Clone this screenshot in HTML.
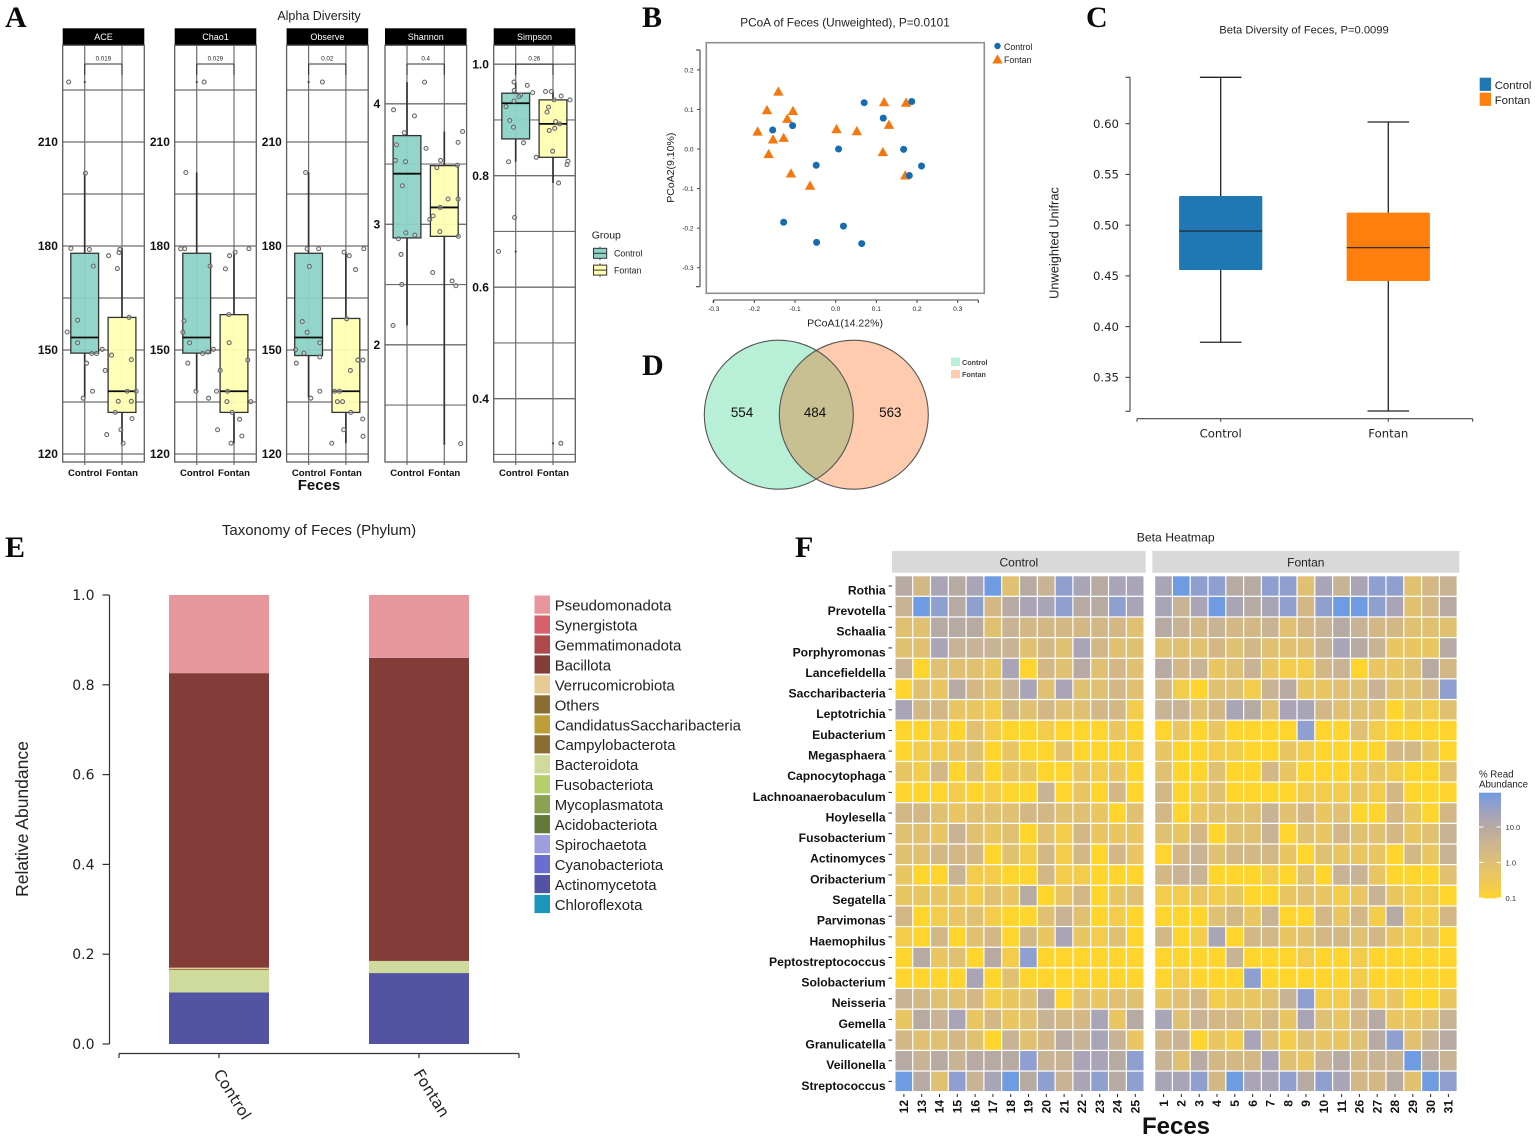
<!DOCTYPE html>
<html lang="en">
<head>
<meta charset="utf-8">
<title>Fecal microbiome diversity figure</title>
<style>
html,body{margin:0;padding:0;background:#fff;}
body{width:1535px;height:1140px;overflow:hidden;}
svg{display:block;font-family:"Liberation Sans",sans-serif;filter:blur(.3px);}
.letter{font-family:"Liberation Serif",serif;font-weight:bold;font-size:30px;fill:#0a0a0a;}
.dj{font-family:"DejaVu Sans",sans-serif;}
</style>
</head>
<body>
<svg id="fig" xmlns="http://www.w3.org/2000/svg" width="1535" height="1140" viewBox="0 0 1535 1140">
  <rect width="1535" height="1140" fill="#fff"/>
  <text class="letter" x="5" y="27">A</text>
  <text class="letter" x="642" y="27">B</text>
  <text class="letter" x="1086" y="27">C</text>
  <text class="letter" x="642" y="375">D</text>
  <text class="letter" x="5" y="557">E</text>
  <text class="letter" x="795" y="557">F</text>

  <text x="319" y="20" font-size="12.5" text-anchor="middle" fill="#222">Alpha Diversity</text>
  <text x="319" y="490" font-size="15" font-weight="bold" text-anchor="middle" fill="#111">Feces</text>
  <text x="591.7" y="238.5" font-size="10.5" fill="#222">Group</text>

  <text x="845" y="26.7" font-size="11.8" text-anchor="middle" fill="#222">PCoA of Feces (Unweighted), P=0.0101</text>
  <text x="845" y="326.7" font-size="10.5" text-anchor="middle" fill="#222">PCoA1(14.22%)</text>
  <text transform="translate(674,167.7) rotate(-90)" font-size="10.5" text-anchor="middle" fill="#222">PCoA2(9.10%)</text>

  <text x="1304" y="33.3" font-size="11.2" text-anchor="middle" fill="#222">Beta Diversity of Feces, P=0.0099</text>
  <text transform="translate(1058.5,243) rotate(-90)" font-size="12.8" text-anchor="middle" fill="#222">Unweighted Unifrac</text>

  <text x="319" y="535" font-size="15" text-anchor="middle" fill="#222">Taxonomy of Feces (Phylum)</text>
  <text transform="translate(28,819) rotate(-90)" font-size="17.5" text-anchor="middle" fill="#222">Relative Abundance</text>

  <text x="1175.7" y="541.5" font-size="12.2" text-anchor="middle" fill="#222">Beta Heatmap</text>
  <text x="1176" y="1134" font-size="24" font-weight="bold" text-anchor="middle" fill="#111">Feces</text>
  <text x="1479" y="777.3" font-size="9.7" fill="#222">% Read</text>
  <text x="1479" y="787.5" font-size="9.7" fill="#222">Abundance</text>
</svg>

<script>
// ---------- Panel A: alpha diversity ----------
const facetNames = ['ACE', 'Chao1', 'Observe', 'Shannon', 'Simpson'];
const facetPValues = ['0.019', '0.029', '0.02', '0.4', '0.26'];
const boxGroups = ['Control', 'Fontan'];

const countMajorTicks = [120, 150, 180, 210];
const countMinorTicks = [135, 165, 195, 225];
const shannonMajorTicks = [2, 3, 4];
const shannonMinorTicks = [1.5, 2.5, 3.5];
const simpsonMajorTicks = [0.4, 0.6, 0.8, 1.0];
const simpsonMinorTicks = [0.3, 0.5, 0.7, 0.9];

// stats: [q1, median, q3, whiskerLow, whiskerHigh]
const aceStats = [[149.1, 153.6, 177.9, 136.2, 201], [132, 138.1, 159.4, 123, 179.4]];
const chao1Stats = [[149.1, 153.6, 177.9, 138.1, 201.2], [132, 138.1, 160.2, 123.1, 178.2]];
const observeStats = [[148.4, 153.6, 177.9, 136.1, 201.2], [132, 138.1, 159.1, 123.1, 178.2]];
const shannonStats = [[2.887, 3.42, 3.736, 2.16, 4.18], [2.9, 3.14, 3.487, 1.18, 3.77]];
const simpsonStats = [[0.866, 0.93, 0.948, 0.825, 0.968], [0.833, 0.893, 0.936, 0.787, 0.951]];

const acePointsX = [.57,1.02,.63,1.125,1.23,.81,.53,.81,1.19,1.32,1.47,1.05,1.21,.96,1.64,1.94,1.92,1.875,2.19,1.72,2.25,1.55,2.14,2.38,1.9,2.25,1.82,2.27,1.59,1.97,2.03];
const acePointsY = [227.3,201,179.3,179,174.2,158.6,155.2,152.1,149,149,150.2,146.2,138.1,136.1,177.2,179,178.1,173.5,159.4,148.5,147.2,144.1,138.1,138.1,135.2,135.2,132,130.2,125.6,127,123.1];
const chao1PointsX = [1.2,.71,.57,.68,1.36,.66,.63,.81,1.16,1.3,1.45,.76,.98,1.32,1.88,2.03,2.4,1.77,1.86,1.87,2.37,1.63,1.53,1.83,1.81,2.45,1.95,2.15,1.56,2.21,1.92];
const chao1PointsY = [227.3,201.2,179.2,179.2,174.2,158.4,155.1,152.1,149,149.4,150.2,146.2,138.1,136.1,177.2,178.2,179.2,173.4,160.2,152.1,147.1,144.1,138.1,138.1,135.1,135.1,132,130,127,125.2,123.1];
const observePointsX = [1.37,.92,.96,1.27,1.02,.83,.96,.65,.875,1.3,.67,1.3,1.3,1.06,1.95,2.09,2.48,2.26,2.02,2.32,2.46,2.12,1.7,1.83,1.77,1.91,2.13,2.45,1.94,2.46,1.62];
const observePointsY = [227.3,201.2,179.2,179.2,174.1,158.2,155.1,150.1,149.1,152.1,146.2,148,138.1,136.1,178.2,177.2,179.2,173.2,159,147.1,147.1,144.1,138.1,138.1,135.1,135.1,132,130.1,127,125.1,123.1];
const shannonPointsX = [1.47,.64,1.2,.93,1.51,.72,.69,.96,.875,.97,1.21,.77,.84,.86,.625,2.49,2.37,1.9,2.35,1.8,2.1,2.37,1.89,1.7,1.61,1.88,2.375,1.69,2.21,2.31,2.44];
const shannonPointsY = [4.18,3.95,3.9,3.76,3.63,3.66,3.53,3.52,3.32,2.93,2.91,2.88,2.75,2.5,2.16,3.77,3.68,3.53,3.49,3.47,3.21,3.21,3.14,3.07,3.04,2.94,2.9,2.6,2.53,2.49,1.18];
const simpsonPointsX = [.955,1.31,.96,1.455,1.13,1.09,.955,.74,.84,.94,1.21,.81,.97,.54,1.8,1.955,2.22,2.455,2.03,1.88,1.84,2.07,2.18,2.045,1.9,1.99,1.55,2.4,2.375,2.15,2.21];
const simpsonPointsY = [.968,.962,.953,.949,.945,.942,.934,.924,.899,.887,.859,.825,.725,.664,.951,.951,.943,.936,.936,.923,.914,.897,.893,.885,.881,.844,.833,.826,.82,.787,.32];

const aceOutliersX = [1];
const aceOutliersY = [227.3];
const chao1OutliersX = [1];
const chao1OutliersY = [227.3];
const observeOutliersX = [1];
const observeOutliersY = [227.3];
const shannonOutliersX = [2];
const shannonOutliersY = [1.18];
const simpsonOutliersX = [1, 2];
const simpsonOutliersY = [.664, .32];

// ---------- Panel B: PCoA ----------
const pcoaTicksX = [-0.3, -0.2, -0.1, 0.0, 0.1, 0.2, 0.3];
const pcoaTicksY = [-0.3, -0.2, -0.1, 0.0, 0.1, 0.2];
const pcoaControlX = [-.155,-.106,.07,.187,.117,.007,-.048,.167,.211,.181,-.128,.019,-.047,.064];
const pcoaControlY = [.048,.059,.117,.12,.078,0,-.041,-.001,-.043,-.067,-.185,-.195,-.236,-.239];
const pcoaFontanX = [-.141,-.169,-.105,-.119,-.192,-.154,-.128,-.165,-.11,-.063,.002,.052,.119,.173,.131,.116,.171];
const pcoaFontanY = [.145,.098,.096,.076,.044,.024,.028,-.013,-.062,-.093,.05,.045,.118,.117,.061,-.008,-.067];

// ---------- Panel C: beta diversity ----------
const betaTicks = [0.35, 0.40, 0.45, 0.50, 0.55, 0.60];
const betaGroups = ['Control', 'Fontan'];
const betaQ1 = [0.4558, 0.445];
const betaMedian = [0.4942, 0.4778];
const betaQ3 = [0.5288, 0.5123];
const betaLow = [0.3846, 0.3168];
const betaHigh = [0.6457, 0.6017];

// ---------- Panel D: Venn ----------
const vennCounts = [554, 484, 563];

// ---------- Panel E: taxonomy stacked bars ----------
const phylumNames = ['Pseudomonadota','Synergistota','Gemmatimonadota','Bacillota','Verrucomicrobiota','Others','CandidatusSaccharibacteria','Campylobacterota','Bacteroidota','Fusobacteriota','Mycoplasmatota','Acidobacteriota','Spirochaetota','Cyanobacteriota','Actinomycetota','Chloroflexota'];
const phylumColors = ['#e7969c','#d6616b','#ad494a','#843c39','#e7cb94','#8c6d31','#bd9e39','#8c6d31','#cedb9c','#b5cf6b','#8ca252','#637939','#9c9ede','#6b6ecf','#5254a3','#1a96bb'];
const taxonomyTicks = [0.0, 0.2, 0.4, 0.6, 0.8, 1.0];
const taxonomyGroups = ['Control', 'Fontan'];
const controlAbundance = [.174,0,0,.656,.003,.001,0,.001,.05,0,0,0,0,0,.115,0];
const fontanAbundance = [.14,0,0,.675,0,0,0,0,.027,0,0,0,0,0,.158,0];

// ---------- Panel F: heatmap ----------
const genusNames = ['Rothia','Prevotella','Schaalia','Porphyromonas','Lancefieldella','Saccharibacteria','Leptotrichia','Eubacterium','Megasphaera','Capnocytophaga','Lachnoanaerobaculum','Hoylesella','Fusobacterium','Actinomyces','Oribacterium','Segatella','Parvimonas','Haemophilus','Peptostreptococcus','Solobacterium','Neisseria','Gemella','Granulicatella','Veillonella','Streptococcus'];
const controlSamples = ['12','13','14','15','16','17','18','19','20','21','22','23','24','25'];
const fontanSamples = ['1','2','3','4','5','6','7','8','9','10','11','26','27','28','29','30','31'];
// abundance score, 0 = 0.1 % (yellow) ... 9 = highest (blue)
const controlHeat = [
[6,4,7,6,7,9,3,6,5,8,7,6,7,7],
[5,9,8,6,8,4,6,7,7,8,6,6,8,7],
[3,3,6,6,6,3,5,4,4,4,4,4,4,3],
[3,3,7,5,5,5,5,3,4,3,7,4,3,3],
[5,0,3,3,3,2,7,0,4,3,6,3,4,3],
[0,3,2,6,4,3,5,7,3,7,3,3,4,3],
[7,4,4,2,2,1,4,3,4,3,3,4,4,1],
[0,0,1,0,3,1,0,0,1,0,0,0,2,0],
[0,1,1,2,3,0,2,0,0,3,0,0,0,1],
[2,1,4,0,3,0,2,2,0,0,2,1,2,0],
[0,0,0,1,0,1,0,0,5,0,2,0,4,0],
[4,4,3,2,3,3,3,4,4,3,3,2,0,3],
[3,3,2,5,3,2,3,0,3,1,4,2,2,2],
[3,3,4,4,4,0,3,1,4,1,4,0,4,2],
[2,0,0,5,1,1,0,0,4,1,1,0,0,0],
[2,2,2,2,1,3,2,6,0,2,4,0,2,3],
[4,0,1,2,3,1,0,0,3,5,3,0,1,0],
[1,0,4,0,3,4,0,4,2,7,2,1,3,0],
[0,6,2,3,0,6,1,8,0,0,0,0,0,0],
[0,0,0,0,7,0,3,0,0,0,0,0,0,0],
[5,4,3,3,4,1,2,3,6,0,3,2,3,3],
[2,6,5,7,2,4,2,3,5,4,4,7,2,6],
[4,3,3,4,3,0,5,3,4,6,5,7,5,2],
[6,5,6,5,6,6,6,8,5,5,7,7,6,8],
[9,6,3,8,5,7,9,6,8,5,7,8,6,8]
];
const fontanHeat = [
[7,9,8,8,6,6,8,8,3,7,5,7,8,8,3,4,5],
[7,5,7,9,7,6,7,8,4,8,9,9,8,7,3,4,6],
[6,5,4,5,4,4,5,3,4,5,6,5,4,4,3,3,3],
[3,3,3,4,3,4,3,3,3,5,7,6,5,2,2,2,6],
[6,4,5,2,3,5,2,1,1,4,5,0,2,2,3,6,4],
[4,1,0,3,3,1,5,6,2,2,3,3,5,3,3,4,8],
[5,5,3,4,7,6,3,7,7,4,3,3,3,0,2,1,3],
[0,2,0,2,0,0,0,0,8,0,0,3,1,0,0,0,0],
[2,0,0,1,1,0,0,2,1,0,0,0,0,4,4,2,0],
[3,0,0,3,0,0,4,2,0,0,0,1,2,1,0,0,3],
[4,0,1,3,0,0,0,0,1,1,1,2,1,4,0,0,0],
[4,0,2,3,3,3,5,3,4,2,3,0,0,4,2,0,4],
[3,2,4,0,3,3,5,0,3,2,4,3,3,4,2,3,5],
[0,4,5,3,4,4,4,2,0,3,2,2,2,0,4,2,5],
[4,5,5,0,0,0,1,0,3,0,5,5,2,0,0,0,3],
[1,1,2,1,2,0,0,2,3,2,1,2,5,2,1,1,0],
[0,0,0,3,4,2,5,0,0,4,2,4,1,6,1,1,4],
[4,0,1,7,0,4,4,2,3,4,4,3,4,2,1,2,0],
[0,0,0,0,5,0,0,0,1,0,0,1,0,0,0,0,0],
[0,1,0,0,0,8,0,0,0,0,0,1,0,0,0,0,0],
[2,3,4,1,2,2,3,5,8,1,1,4,1,2,0,0,2],
[7,3,5,4,4,3,4,2,7,3,2,4,6,2,2,3,5],
[4,5,0,2,1,7,3,1,3,2,2,3,6,8,3,5,6],
[5,3,6,4,4,4,7,3,2,5,6,4,5,5,9,6,5],
[7,7,8,4,9,7,7,8,6,8,7,4,4,6,3,9,8]
];
const colorbarTicks = ['0.1', '1.0', '10.0'];

// ---------- drawing helpers ----------
const NS = 'http://www.w3.org/2000/svg';
const fig = document.getElementById('fig');

function shape(tag, parent, attrs, name) {
  const el = document.createElementNS(NS, tag);
  for (const k in attrs) el.setAttribute(k, attrs[k]);
  
  
  parent.appendChild(el);
  return el;
}
function group(parent, name) {
  return shape('g', parent, {}, name);
}
function line(parent, x1, y1, x2, y2, stroke, w, name) {
  return shape('line', parent, {x1, y1, x2, y2, stroke, 'stroke-width': w}, name);
}
function label(parent, x, y, str, attrs, name) {
  const el = shape('text', parent, Object.assign({x, y}, attrs), name);
  el.textContent = str;
  return el;
}

// ---------- Panel A ----------
function drawFacet(cfg) {
  const g = group(fig, 'facet-' + cfg.name.toLowerCase());
  const L = cfg.left, R = L + 81.6, T = 45.3, B = 462;
  const xs = c => L + 22 + (c - 1) * 37.3;
  const ys = cfg.y;
  shape('rect', g, {x: L, y: 28.3, width: R - L, height: 17, fill: '#000'}, 'facet-strip');
  label(g, (L + R) / 2, 40.2, cfg.name, {'font-size': 9, fill: '#fff', 'text-anchor': 'middle'}, 'facet-strip-label');
  shape('rect', g, {x: L, y: T, width: R - L, height: B - T, fill: '#fff'}, 'facet-panel');
  cfg.minor.forEach(v => line(g, L, ys(v), R, ys(v), '#6e6e6e', 1.2, 'minor-gridline'));
  cfg.major.forEach(v => {
    line(g, L, ys(v), R, ys(v), '#6e6e6e', 1.3, 'major-gridline');
    label(g, L - 4.8, ys(v) + 4.2, cfg.fmt(v), {'font-size': 12, 'font-weight': 'bold', 'text-anchor': 'end', fill: '#111'}, 'y-tick-label');
  });
  boxGroups.forEach((name, i) => {
    line(g, xs(i + 1), T, xs(i + 1), B + 3, '#6e6e6e', 1.2, 'category-gridline');
    label(g, xs(i + 1) + (i ? 0 : 0.3), 476, name, {'font-size': 9.6, 'font-weight': 'bold', 'text-anchor': 'middle', fill: '#111'}, 'x-tick-label');
  });
  const fills = ['#8dd3c7', '#ffffb3'];
  cfg.stats.forEach((s, i) => {
    const c = xs(i + 1), hw = 13.9;
    line(g, c, ys(s[4]), c, ys(s[2]), '#333', 1.7, 'whisker-upper');
    line(g, c, ys(s[0]), c, ys(s[3]), '#333', 1.7, 'whisker-lower');
    shape('rect', g, {x: c - hw, y: ys(s[2]), width: 2 * hw, height: ys(s[0]) - ys(s[2]), fill: fills[i], 'fill-opacity': .95, stroke: '#333', 'stroke-width': 1.3}, 'box-' + boxGroups[i].toLowerCase());
    line(g, c - hw, ys(s[1]), c + hw, ys(s[1]), '#0a0a0a', 1.8, 'box-median');
  });
  line(g, xs(1), 64, xs(2), 64, '#333', 1.1, 'significance-bracket-top');
  line(g, xs(1), 64, xs(1), 75, '#333', 1.1, 'significance-bracket-left');
  line(g, xs(2), 64, xs(2), 75, '#333', 1.1, 'significance-bracket-right');
  label(g, (xs(1) + xs(2)) / 2, 60.7, cfg.p, {'font-size': 6.2, 'text-anchor': 'middle', fill: '#222'}, 'p-value-label');
  cfg.px.forEach((x, i) => {
    shape('circle', g, {cx: xs(x), cy: ys(cfg.py[i]), r: 2, fill: '#d8d8d8', 'fill-opacity': .4, stroke: '#666', 'stroke-width': 1.05}, 'sample-point');
  });
  cfg.ox.forEach((x, i) => {
    shape('circle', g, {cx: xs(x), cy: ys(cfg.oy[i]), r: 1.1, fill: '#444'}, 'outlier-point');
  });
  shape('rect', g, {x: L, y: T, width: R - L, height: B - T, fill: 'none', stroke: '#5e5e5e', 'stroke-width': 1.3}, 'facet-border');
}
const countY = v => 454 - (v - 120) * 104 / 30;
const countFmt = v => String(v);
drawFacet({name: facetNames[0], p: facetPValues[0], left: 62.7, y: countY, fmt: countFmt, major: countMajorTicks, minor: countMinorTicks, stats: aceStats, px: acePointsX, py: acePointsY, ox: aceOutliersX, oy: aceOutliersY});
drawFacet({name: facetNames[1], p: facetPValues[1], left: 174.7, y: countY, fmt: countFmt, major: countMajorTicks, minor: countMinorTicks, stats: chao1Stats, px: chao1PointsX, py: chao1PointsY, ox: chao1OutliersX, oy: chao1OutliersY});
drawFacet({name: facetNames[2], p: facetPValues[2], left: 286.6, y: countY, fmt: countFmt, major: countMajorTicks, minor: countMinorTicks, stats: observeStats, px: observePointsX, py: observePointsY, ox: observeOutliersX, oy: observeOutliersY});
drawFacet({name: facetNames[3], p: facetPValues[3], left: 385, y: v => 224.3 - (v - 3) * 120.5, fmt: v => String(v), major: shannonMajorTicks, minor: shannonMinorTicks, stats: shannonStats, px: shannonPointsX, py: shannonPointsY, ox: shannonOutliersX, oy: shannonOutliersY});
drawFacet({name: facetNames[4], p: facetPValues[4], left: 493.7, y: v => 175.7 - (v - 0.8) * 557.5, fmt: v => v.toFixed(1), major: simpsonMajorTicks, minor: simpsonMinorTicks, stats: simpsonStats, px: simpsonPointsX, py: simpsonPointsY, ox: simpsonOutliersX, oy: simpsonOutliersY});

(function groupLegend() {
  const g = group(fig, 'group-legend');
  boxGroups.forEach((name, i) => {
    const top = 248.3 + i * 16.8;
    const fill = ['#8dd3c7', '#ffffb3'][i];
    line(g, 600, top - 1.7, 600, top + 11.7, '#444', 1, 'legend-key-whisker');
    shape('rect', g, {x: 593.5, y: top, width: 13.2, height: 10, fill, stroke: '#333', 'stroke-width': 1}, 'legend-key-' + name.toLowerCase());
    line(g, 593.5, top + 5, 606.7, top + 5, '#333', 1, 'legend-key-median');
    label(g, 614, top + 8.4, name, {'font-size': 8.8, fill: '#222'}, 'legend-label-' + name.toLowerCase());
  });
})();

// ---------- Panel B ----------
(function pcoa() {
  const g = group(fig, 'pcoa-plot');
  const xs = v => 835.7 + v * 406.7;
  const ys = v => 149 - v * 395.7;
  shape('rect', g, {x: 706.3, y: 42.7, width: 278, height: 250.6, fill: '#fff', stroke: '#8f8f8f', 'stroke-width': 1.6}, 'pcoa-frame');
  line(g, 700, 50, 700, 286.7, '#444', 1.1, 'pcoa-y-axis');
  line(g, 696, 50, 700, 50, '#444', 1.1, 'pcoa-y-axis-cap');
  line(g, 696, 286.7, 700, 286.7, '#444', 1.1, 'pcoa-y-axis-cap');
  pcoaTicksY.forEach(v => {
    line(g, 697, ys(v), 700, ys(v), '#444', 1, 'pcoa-y-tick');
    label(g, 693.5, ys(v) + 2.4, v.toFixed(1), {'font-size': 6.6, 'text-anchor': 'end', fill: '#222'}, 'pcoa-y-tick-label');
  });
  line(g, 713.3, 300, 978.3, 300, '#444', 1.1, 'pcoa-x-axis');
  line(g, 713.3, 300, 713.3, 303, '#444', 1.1, 'pcoa-x-axis-cap');
  line(g, 978.3, 300, 978.3, 303, '#444', 1.1, 'pcoa-x-axis-cap');
  pcoaTicksX.forEach(v => {
    line(g, xs(v), 300, xs(v), 303, '#444', 1, 'pcoa-x-tick');
    label(g, xs(v), 310.8, v.toFixed(1), {'font-size': 6.6, 'text-anchor': 'middle', fill: '#222'}, 'pcoa-x-tick-label');
  });
  const tri = (cx, cy) => `${cx},${cy - 5.3} ${cx + 5.2},${cy + 4} ${cx - 5.2},${cy + 4}`;
  pcoaFontanX.forEach((x, i) => {
    shape('polygon', g, {points: tri(xs(x), ys(pcoaFontanY[i])), fill: '#f5780f'}, 'pcoa-point-fontan');
  });
  pcoaControlX.forEach((x, i) => {
    shape('circle', g, {cx: xs(x), cy: ys(pcoaControlY[i]), r: 3.5, fill: '#156cb0'}, 'pcoa-point-control');
  });
  shape('circle', g, {cx: 997.5, cy: 46, r: 3.2, fill: '#156cb0'}, 'pcoa-legend-key-control');
  label(g, 1004, 50, 'Control', {'font-size': 8.8, fill: '#222'}, 'pcoa-legend-label-control');
  shape('polygon', g, {points: tri(997.5, 59.5), fill: '#f5780f'}, 'pcoa-legend-key-fontan');
  label(g, 1004, 63, 'Fontan', {'font-size': 8.8, fill: '#222'}, 'pcoa-legend-label-fontan');
})();

// ---------- Panel C ----------
(function beta() {
  const g = group(fig, 'beta-boxplot');
  const ys = v => 123.7 + (0.6 - v) * 1014.6;
  const centers = [1220.7, 1388.3];
  const colors = ['#1f77b4', '#ff7f0e'];
  line(g, 1130, 77.3, 1130, 411.3, '#444', 1.1, 'beta-y-axis');
  line(g, 1125.5, 77.3, 1130, 77.3, '#444', 1.1, 'beta-y-axis-cap');
  line(g, 1125.5, 411.3, 1130, 411.3, '#444', 1.1, 'beta-y-axis-cap');
  betaTicks.forEach(v => {
    line(g, 1125.5, ys(v), 1130, ys(v), '#444', 1.1, 'beta-y-tick');
    label(g, 1119, ys(v) + 4.2, v.toFixed(2), {'font-size': 11.7, 'text-anchor': 'end', fill: '#222', class: 'dj'}, 'beta-y-tick-label');
  });
  line(g, 1137, 418.7, 1472.7, 418.7, '#444', 1.1, 'beta-x-axis');
  line(g, 1137, 418.7, 1137, 421.7, '#444', 1.1, 'beta-x-axis-cap');
  line(g, 1472.7, 418.7, 1472.7, 421.7, '#444', 1.1, 'beta-x-axis-cap');
  betaGroups.forEach((name, i) => {
    const c = centers[i];
    line(g, c, 418.7, c, 421.7, '#444', 1.1, 'beta-x-tick');
    label(g, c, 437.3, name, {'font-size': 11.7, 'text-anchor': 'middle', fill: '#222', class: 'dj'}, 'beta-x-tick-label');
    line(g, c, ys(betaHigh[i]), c, ys(betaLow[i]), '#222', 1.3, 'beta-whisker');
    line(g, c - 20.8, ys(betaHigh[i]), c + 20.8, ys(betaHigh[i]), '#222', 1.3, 'beta-whisker-cap-high');
    line(g, c - 20.8, ys(betaLow[i]), c + 20.8, ys(betaLow[i]), '#222', 1.3, 'beta-whisker-cap-low');
    shape('rect', g, {x: c - 41.6, y: ys(betaQ3[i]), width: 83.2, height: ys(betaQ1[i]) - ys(betaQ3[i]), rx: 1, fill: colors[i]}, 'beta-box-' + name.toLowerCase());
    line(g, c - 41.6, ys(betaMedian[i]), c + 41.6, ys(betaMedian[i]), '#222', 1.1, 'beta-median');
    shape('rect', g, {x: 1479.7, y: 77.7 + i * 15, width: 11.3, height: 13.2, fill: colors[i]}, 'beta-legend-key-' + name.toLowerCase());
    label(g, 1494.7, 89 + i * 15, name, {'font-size': 11.4, fill: '#222'}, 'beta-legend-label-' + name.toLowerCase());
  });
})();

// ---------- Panel D ----------
(function venn() {
  const g = group(fig, 'venn-diagram');
  const cy = 414.7, r = 74.5, cL = 778.8, cR = 853.8;
  const defs = shape('defs', g, {}, 'venn-defs');
  const clip = shape('clipPath', defs, {id: 'vennClip'}, 'venn-clip');
  shape('circle', clip, {cx: cL, cy, r}, 'venn-clip-circle');
  shape('circle', g, {cx: cL, cy, r, fill: '#b7f0d7'}, 'venn-circle-control');
  shape('circle', g, {cx: cR, cy, r, fill: '#fecbaf'}, 'venn-circle-fontan');
  shape('circle', g, {cx: cR, cy, r, fill: '#c9c092', 'clip-path': 'url(#vennClip)'}, 'venn-overlap');
  shape('circle', g, {cx: cL, cy, r, fill: 'none', stroke: '#555', 'stroke-width': 1.1}, 'venn-outline-control');
  shape('circle', g, {cx: cR, cy, r, fill: 'none', stroke: '#555', 'stroke-width': 1.1}, 'venn-outline-fontan');
  const tx = [742, 815, 890.3];
  vennCounts.forEach((n, i) => {
    label(g, tx[i], 416.8, String(n), {'font-size': 13.4, 'text-anchor': 'middle', fill: '#111'}, 'venn-count');
  });
  shape('rect', g, {x: 951, y: 357.7, width: 9, height: 8.3, fill: '#b7f0d7'}, 'venn-legend-key-control');
  label(g, 962, 365, 'Control', {'font-size': 7.2, 'font-weight': 'bold', fill: '#444'}, 'venn-legend-label-control');
  shape('rect', g, {x: 951, y: 370, width: 9, height: 8.3, fill: '#fecbaf'}, 'venn-legend-key-fontan');
  label(g, 962, 377, 'Fontan', {'font-size': 7.2, 'font-weight': 'bold', fill: '#444'}, 'venn-legend-label-fontan');
})();

// ---------- Panel E ----------
(function taxonomy() {
  const g = group(fig, 'taxonomy-stacked-bars');
  const ys = v => 1044 - v * 449;
  const centers = [219, 419];
  line(g, 109.5, 595, 109.5, 1044, '#333', 1.2, 'taxonomy-y-axis');
  taxonomyTicks.forEach(v => {
    line(g, 102.5, ys(v), 109.5, ys(v), '#333', 1.2, 'taxonomy-y-tick');
    label(g, 94.5, ys(v) + 5, v.toFixed(1), {'font-size': 14, 'text-anchor': 'end', fill: '#222', class: 'dj'}, 'taxonomy-y-tick-label');
  });
  line(g, 119, 1053.5, 519, 1053.5, '#333', 1.2, 'taxonomy-x-axis');
  line(g, 119, 1053.5, 119, 1058, '#333', 1.2, 'taxonomy-x-axis-cap');
  line(g, 519, 1053.5, 519, 1058, '#333', 1.2, 'taxonomy-x-axis-cap');
  [controlAbundance, fontanAbundance].forEach((vals, b) => {
    const c = centers[b];
    let acc = 0;
    for (let i = phylumNames.length - 1; i >= 0; i--) {
      if (vals[i] <= 0) continue;
      shape('rect', g, {x: c - 50, y: ys(acc + vals[i]), width: 100, height: ys(acc) - ys(acc + vals[i]), fill: phylumColors[i]}, 'bar-segment-' + phylumNames[i].toLowerCase());
      acc += vals[i];
    }
    line(g, c, 1053.5, c, 1058, '#333', 1.2, 'taxonomy-x-tick');
    shape('text', g, {transform: `translate(${c - 6},1073.5) rotate(58)`, 'font-size': 15.5, fill: '#222', class: 'dj'}, 'taxonomy-x-tick-label').textContent = taxonomyGroups[b];
  });
  phylumNames.forEach((name, i) => {
    const y = 595.5 + i * 19.96;
    shape('rect', g, {x: 534.5, y, width: 15.5, height: 18.2, fill: phylumColors[i]}, 'taxonomy-legend-key');
    label(g, 554.7, y + 15, name, {'font-size': 14.9, fill: '#222'}, 'taxonomy-legend-label');
  });
})();

// ---------- Panel F ----------
const heatStops = ['#ffd42c', '#f4cc4c', '#e9c662', '#e0c172', '#d3b886', '#c8b394', '#b7aaa3', '#a9a5b6', '#8f9fcf', '#6f9be2'];
function heatColor(v) {
  const t = Math.max(0, Math.min(heatStops.length - 1, v));
  const i = Math.min(Math.floor(t), heatStops.length - 2);
  const f = t - i;
  const hex = s => [1, 3, 5].map(k => parseInt(s.substr(k, 2), 16));
  const a = hex(heatStops[i]), b = hex(heatStops[i + 1]);
  return 'rgb(' + a.map((c, k) => Math.round(c + (b[k] - c) * f)).join(',') + ')';
}
(function heatmap() {
  const g = group(fig, 'heatmap');
  const rowY = r => 575.7 + r * 20.64;
  const pitch = 17.8;
  function block(rows, samples, left, stripX, stripW, title, slug) {
    shape('rect', g, {x: stripX, y: 551, width: stripW, height: 21.7, fill: '#d9d9d9'}, 'heatmap-strip-' + slug);
    label(g, stripX + stripW / 2, 566.6, title, {'font-size': 12, 'text-anchor': 'middle', fill: '#222'}, 'heatmap-strip-label-' + slug);
    rows.forEach((row, r) => {
      row.forEach((v, c) => {
        shape('rect', g, {x: left + c * pitch + .5, y: rowY(r) + .6, width: 16.6, height: 19.4, fill: heatColor(v)}, 'heatmap-cell');
      });
    });
    samples.forEach((s, c) => {
      const cx = left + c * pitch + pitch / 2;
      line(g, cx, 1094, cx, 1097, '#222', 1, 'heatmap-x-tick');
      shape('text', g, {transform: `translate(${cx + 4.2},1100) rotate(-90)`, 'font-size': 12, 'font-weight': 'bold', 'text-anchor': 'end', fill: '#111'}, 'heatmap-x-tick-label').textContent = s;
    });
  }
  block(controlHeat, controlSamples, 895, 892, 253.7, 'Control', 'control');
  block(fontanHeat, fontanSamples, 1154.7, 1152.3, 307, 'Fontan', 'fontan');
  genusNames.forEach((name, r) => {
    const cy = rowY(r) + 10.3;
    line(g, 888.5, cy, 892, cy, '#222', 1, 'heatmap-y-tick');
    label(g, 885.7, cy + 8.4, name, {'font-size': 12.15, 'font-weight': 'bold', 'text-anchor': 'end', fill: '#111'}, 'heatmap-y-tick-label');
  });
  // colour bar
  const defs = shape('defs', g, {}, 'colorbar-defs');
  const grad = shape('linearGradient', defs, {id: 'heatGrad', x1: 0, y1: 1, x2: 0, y2: 0}, 'colorbar-gradient');
  heatStops.forEach((c, i) => {
    shape('stop', grad, {offset: i / (heatStops.length - 1), 'stop-color': c}, 'colorbar-gradient-stop');
  });
  shape('rect', g, {x: 1479, y: 792.7, width: 22, height: 105.6, fill: 'url(#heatGrad)'}, 'colorbar');
  const barY = k => 898 - k * 35.5;
  colorbarTicks.forEach((t, k) => {
    line(g, 1479, barY(k), 1483.4, barY(k), '#fff', 1, 'colorbar-tick');
    line(g, 1496.6, barY(k), 1501, barY(k), '#fff', 1, 'colorbar-tick');
    label(g, 1505.5, barY(k) + 3, t, {'font-size': 7.6, fill: '#333'}, 'colorbar-tick-label');
  });
})();
</script>
</body>
</html>
